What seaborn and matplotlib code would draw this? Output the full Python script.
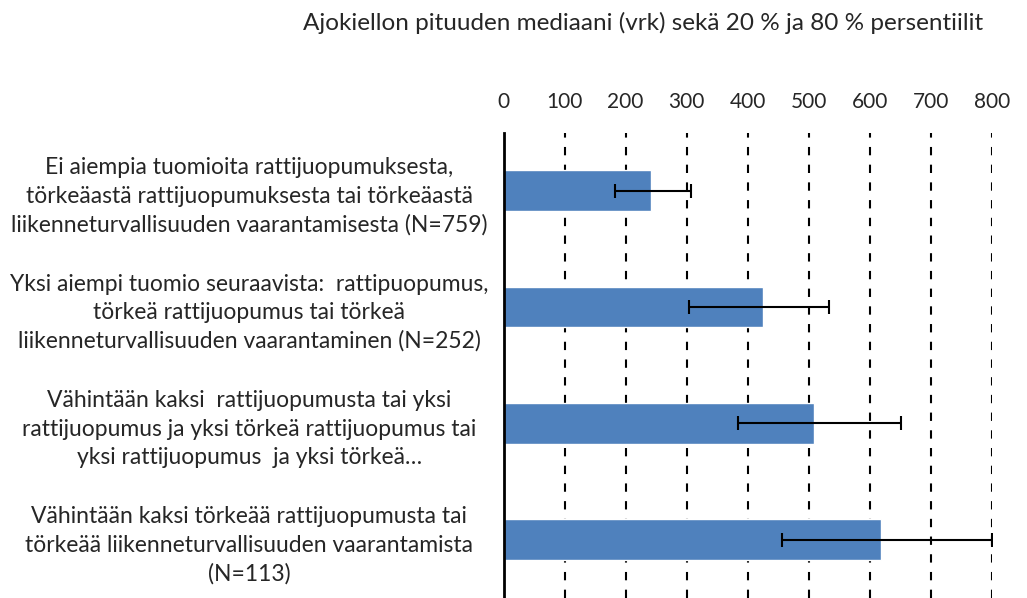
import numpy as np
import pandas as pd
import matplotlib
matplotlib.use('Agg')
import matplotlib.pyplot as plt
import seaborn as sns

# data
categories = [
    'Ei aiempia tuomioita rattijuopumuksesta,\ntörkeäastä rattijuopumuksesta tai törkeäastä\nliikenneturvallisuuden vaarantamisesta (N=759)',
    'Yksi aiempi tuomio seuraavista:  rattipuopumus,\ntörkeä rattijuopumus tai törkeä\nliikenneturvallisuuden vaarantaminen (N=252)',
    'Vähintään kaksi  rattijuopumusta tai yksi\nrattijuopumus ja yksi törkeä rattijuopumus tai\nyksi rattijuopumus  ja yksi törkeä…',
    'Vähintään kaksi törkeää rattijuopumusta tai\ntörkeää liikenneturvallisuuden vaarantamista\n(N=113)',
]
median = [241, 426, 509, 618]
p20 = [182, 304, 385, 457]
p80 = [307, 533, 652, 800]
xticks = [0, 100, 200, 300, 400, 500, 600, 700, 800]
title = 'Ajokiellon pituuden mediaani (vrk) sekä 20 % ja 80 % persentiilit'

df = pd.DataFrame({'label': categories, 'median': median, 'p20': p20, 'p80': p80})

sns.set_theme(style='white')
plt.rcParams['font.family'] = ['Lato', 'DejaVu Sans']

fig = plt.figure(figsize=(10.27, 5.98), dpi=100)
ax = fig.add_axes([0.4903, 0.0, 0.4753, 0.7784])

sns.barplot(data=df, x='median', y='label', orient='h', color='#4F81BD',
            saturation=1, width=0.35, ax=ax, zorder=2)

# 20 % and 80 % percentiles as asymmetric error bars
ypos = np.arange(len(df))
ax.errorbar(df['median'], ypos,
            xerr=[df['median'] - df['p20'], df['p80'] - df['median']],
            fmt='none', ecolor='black', elinewidth=1.5, capsize=5, capthick=1.5, zorder=3)

ax.set_xlim(0, 800)
ax.set_ylim(3.5, -0.5)
ax.set_xticks(xticks)
ax.xaxis.tick_top()
ax.tick_params(axis='x', length=0, pad=15, labelsize=15)
ax.tick_params(axis='y', length=0, pad=183, labelsize=16.5)
for lab in ax.get_yticklabels():
    lab.set_horizontalalignment('center')
    lab.set_multialignment('center')
    lab.set_linespacing(1.42)
ax.set_xlabel('')
ax.set_ylabel('')

for x in xticks[1:]:
    ax.axvline(x, color='black', lw=1.5, ls=(0, (4, 4.5)), zorder=1)

for s in ['top', 'right', 'bottom']:
    ax.spines[s].set_visible(False)
ax.spines['left'].set_color('black')
ax.spines['left'].set_linewidth(2)
ax.spines['left'].set_zorder(4)

fig.text(0.626, 0.961, title, ha='center', va='center', fontsize=17.5)

fig.savefig('out.png', dpi=100)
